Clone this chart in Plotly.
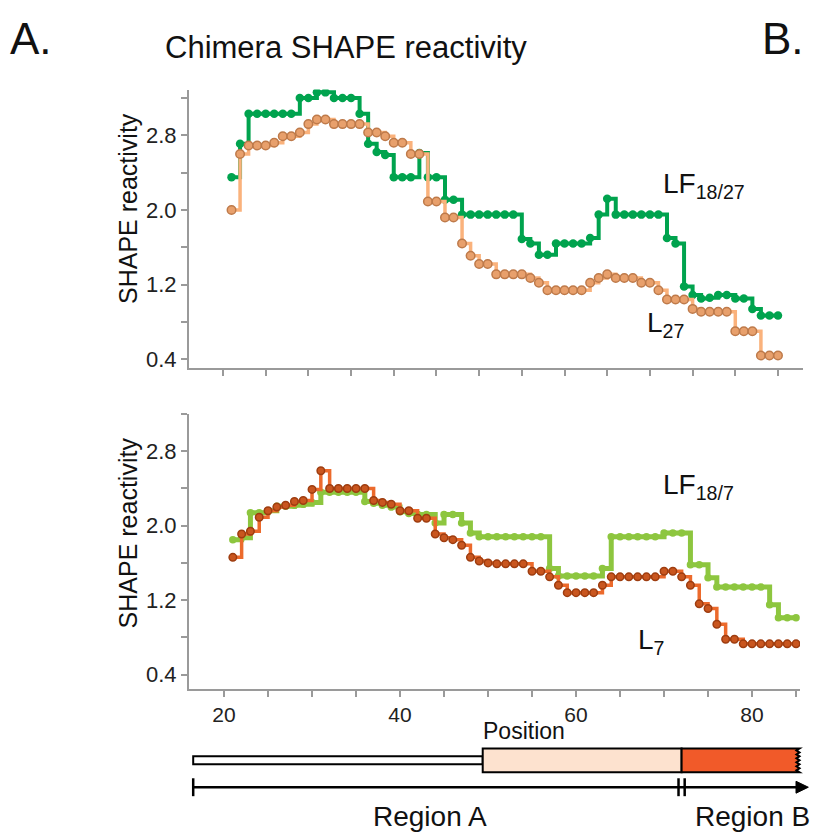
import plotly.graph_objects as go

W, H = 819, 838

# ---------------- data ----------------
positions = list(range(21, 86))

lf_18_27 = [2.35, 2.71, 3.03, 3.03, 3.03, 3.03, 3.03, 3.03, 3.20, 3.20,
            3.26, 3.26, 3.20, 3.20, 3.20, 3.03, 2.71, 2.62, 2.59, 2.35,
            2.35, 2.35, 2.61, 2.35, 2.35, 2.11, 2.11, 1.95, 1.95, 1.95,
            1.95, 1.95, 1.95, 1.95, 1.69, 1.64, 1.52, 1.52, 1.64, 1.64,
            1.64, 1.64, 1.70, 1.95, 2.12, 1.95, 1.95, 1.95, 1.95, 1.95,
            1.95, 1.70, 1.64, 1.18, 1.09, 1.05, 1.06, 1.09, 1.09, 1.05,
            1.05, 0.94, 0.87, 0.87, 0.87]

l_27 = [2.00, 2.60, 2.69, 2.69, 2.69, 2.72, 2.79, 2.79, 2.83, 2.92,
        2.97, 2.97, 2.92, 2.92, 2.92, 2.92, 2.83, 2.83, 2.79, 2.72,
        2.72, 2.60, 2.60, 2.09, 2.09, 1.92, 1.92, 1.64, 1.51, 1.42,
        1.42, 1.31, 1.31, 1.31, 1.31, 1.27, 1.22, 1.14, 1.14, 1.14,
        1.14, 1.14, 1.22, 1.27, 1.31, 1.27, 1.27, 1.27, 1.22, 1.22,
        1.14, 1.04, 1.04, 1.04, 0.94, 0.91, 0.91, 0.91, 0.91, 0.70,
        0.70, 0.70, 0.44, 0.44, 0.44]

lf_18_7 = [1.85, 1.87, 2.14, 2.14, 2.16, 2.21, 2.21, 2.22, 2.23, 2.25,
           2.36, 2.36, 2.36, 2.36, 2.36, 2.26, 2.24, 2.22, 2.20, 2.15,
           2.13, 2.12, 2.12, 2.03, 2.12, 2.12, 2.03, 1.92, 1.88, 1.88,
           1.88, 1.88, 1.88, 1.88, 1.88, 1.88, 1.54, 1.46, 1.46, 1.46,
           1.46, 1.46, 1.54, 1.88, 1.88, 1.88, 1.88, 1.88, 1.88, 1.92,
           1.92, 1.92, 1.58, 1.58, 1.44, 1.34, 1.34, 1.34, 1.34, 1.34,
           1.34, 1.15, 1.01, 1.01, 1.01]

l_7 = [1.66, 1.91, 1.94, 2.09, 2.16, 2.20, 2.22, 2.26, 2.27, 2.39,
       2.59, 2.40, 2.40, 2.40, 2.40, 2.40, 2.27, 2.25, 2.23, 2.16,
       2.16, 2.08, 2.08, 1.91, 1.87, 1.85, 1.79, 1.66, 1.62, 1.60,
       1.59, 1.59, 1.59, 1.59, 1.51, 1.51, 1.45, 1.36, 1.28, 1.28,
       1.28, 1.28, 1.36, 1.45, 1.45, 1.45, 1.45, 1.45, 1.45, 1.51,
       1.51, 1.45, 1.36, 1.16, 1.11, 0.94, 0.78, 0.78, 0.73, 0.73,
       0.73, 0.73, 0.73, 0.73, 0.73]

y_major = [0.4, 1.2, 2.0, 2.8]
y_major_text = ["0.4", "1.2", "2.0", "2.8"]
y_minor = [0.8, 1.6, 2.4, 3.2]
x_major = [20, 40, 60, 80]
x_major_text = ["20", "40", "60", "80"]
x_minor = [25, 30, 35, 45, 50, 55, 65, 70, 75, 85]

# schematic (positions along the sequence)
schem_start, schem_mid, region_split, schem_end = 16.5, 49.4, 72.0, 85.4
arrow_end = 86.4
region_labels = ["Region A", "Region B"]
region_label_pos = [43.4, 80.0]

# ---------------- figure ----------------
FONT = "Liberation Sans, Arial, Helvetica, sans-serif"
fig = go.Figure()

fig.add_trace(go.Scatter(
    x=positions, y=lf_18_27, xaxis="x", yaxis="y", mode="lines+markers",
    line=dict(shape="hv", color="#00A34E", width=4),
    marker=dict(size=8.5, color="#00A34E"), hoverinfo="skip"))
fig.add_trace(go.Scatter(
    x=positions, y=l_27, xaxis="x", yaxis="y", mode="lines+markers",
    line=dict(shape="hv", color="#FAB27C", width=3.5),
    marker=dict(size=8.5, color="#E8A06C", line=dict(color="#BE7A4A", width=1.5)),
    hoverinfo="skip"))
fig.add_trace(go.Scatter(
    x=positions, y=lf_18_7, xaxis="x2", yaxis="y2", mode="lines+markers",
    line=dict(shape="hv", color="#8DC63F", width=5),
    marker=dict(size=7.5, color="#8DC63F"), hoverinfo="skip"))
fig.add_trace(go.Scatter(
    x=positions, y=l_7, xaxis="x2", yaxis="y2", mode="lines+markers",
    line=dict(shape="hv", color="#EC6A2C", width=3.5),
    marker=dict(size=7.5, color="#C9561F", line=dict(color="#9E3D10", width=1.5)),
    hoverinfo="skip"))
# invisible trace anchoring the schematic axis
fig.add_trace(go.Scatter(x=[None], y=[None], xaxis="x3", yaxis="y3",
                         showlegend=False, hoverinfo="skip"))

def axis_style(minor_vals):
    return dict(showgrid=False, zeroline=False, showline=True,
                linecolor="#9a9a9a", linewidth=2, ticks="outside",
                ticklen=6, tickcolor="#9a9a9a", tickwidth=1.5,
                tickfont=dict(family=FONT, size=22, color="#222"),
                minor=dict(tickvals=minor_vals, ticks="outside", ticklen=6,
                           tickcolor="#9a9a9a", tickwidth=1.5, showgrid=False))

px_per_unit = 8.8
x3_range = [20 - 224 / px_per_unit, 20 + (W - 224) / px_per_unit]

fig.update_layout(
    width=W, height=H, margin=dict(l=0, r=0, t=0, b=0),
    paper_bgcolor="white", plot_bgcolor="rgba(0,0,0,0)", showlegend=False,
    xaxis=dict(domain=[189 / W, 803 / W], anchor="y", range=[16.02, 87.93],
               tickvals=x_major, showticklabels=False, **axis_style(x_minor)),
    yaxis=dict(domain=[1 - 370 / H, 1 - 90 / H], anchor="x", range=[0.304, 3.29],
               tickvals=y_major, ticktext=y_major_text, **axis_style(y_minor)),
    xaxis2=dict(domain=[189 / W, 800 / W], anchor="y2", range=[16.02, 85.45],
                tickvals=x_major, ticktext=x_major_text, **axis_style(x_minor)),
    yaxis2=dict(domain=[1 - 692 / H, 1 - 416 / H], anchor="x2", range=[0.248, 3.2],
                tickvals=y_major, ticktext=y_major_text, **axis_style(y_minor)),
    xaxis3=dict(domain=[0, 1], anchor="y3", range=x3_range, visible=False),
    yaxis3=dict(domain=[0, 0.1], anchor="x3", range=[0, 1], visible=False),
)
fig.update_xaxes(tickfont_size=21, selector=dict(anchor="y2"))

def py(p):
    return 1 - p / H

ann = []
ann.append(dict(text="A.", x=8 / W, y=py(12), xanchor="left", yanchor="top",
                font=dict(family=FONT, size=44, color="#111")))
ann.append(dict(text="B.", x=806 / W, y=py(12), xanchor="right", yanchor="top",
                font=dict(family=FONT, size=44, color="#111")))
ann.append(dict(text="Chimera SHAPE reactivity", x=346 / W, y=py(48),
                xanchor="center", yanchor="middle",
                font=dict(family=FONT, size=31, color="#111")))
for yc in (210, 536):
    ann.append(dict(text="SHAPE reactivity", x=128 / W, y=py(yc), textangle=-90,
                    xanchor="center", yanchor="middle",
                    font=dict(family=FONT, size=25, color="#111")))
ann.append(dict(text="LF<sub>18/27</sub>", x=661 / W, y=py(186), xanchor="left",
                yanchor="middle", font=dict(family=FONT, size=28, color="#111")))
ann.append(dict(text="L<sub>27</sub>", x=645 / W, y=py(326), xanchor="left",
                yanchor="middle", font=dict(family=FONT, size=28, color="#111")))
ann.append(dict(text="LF<sub>18/7</sub>", x=661 / W, y=py(489), xanchor="left",
                yanchor="middle", font=dict(family=FONT, size=28, color="#111")))
ann.append(dict(text="L<sub>7</sub>", x=636 / W, y=py(645), xanchor="left",
                yanchor="middle", font=dict(family=FONT, size=28, color="#111")))
ann.append(dict(text="Position", x=524 / W, y=py(735), xanchor="center",
                yanchor="middle", font=dict(family=FONT, size=23, color="#111")))
for lbl, xp in zip(region_labels, region_label_pos):
    ann.append(dict(text=lbl, x=xp, xref="x3", y=py(820), yref="paper",
                    xanchor="center", yanchor="middle",
                    font=dict(family=FONT, size=28, color="#111")))
for a in ann:
    a.setdefault("xref", "paper")
    a.setdefault("yref", "paper")
    a["showarrow"] = False
fig.update_layout(annotations=ann)

shapes = []
blk = dict(color="black", width=2)
# thin white bar
shapes.append(dict(type="rect", xref="x3", yref="paper", x0=schem_start, x1=schem_mid,
                   y0=py(768), y1=py(760), fillcolor="white", line=blk))
# peach box
shapes.append(dict(type="rect", xref="x3", yref="paper", x0=schem_mid, x1=region_split,
                   y0=py(776), y1=py(752), fillcolor="#FDE2CF", line=blk))
# red box with jagged right edge
top, bot = py(752), py(776)
n_teeth = 6
pts = [f"M {region_split},{top}", f"L {schem_end},{top}"]
for i in range(1, 2 * n_teeth + 1):
    yy = top + (bot - top) * i / (2 * n_teeth)
    xx = schem_end - (0.35 if i % 2 == 1 else 0.0)
    pts.append(f"L {xx},{yy}")
pts.append(f"L {region_split},{bot} Z")
shapes.append(dict(type="path", xref="x3", yref="paper", path=" ".join(pts),
                   fillcolor="#F15A29", line=blk))
# position arrow
ay = py(791)
shapes.append(dict(type="line", xref="x3", yref="paper", x0=schem_start, x1=arrow_end - 1.0,
                   y0=ay, y1=ay, line=dict(color="black", width=2.5)))
shapes.append(dict(type="path", xref="x3", yref="paper",
                   path=f"M {arrow_end - 1.4},{py(785)} L {arrow_end},{ay} L {arrow_end - 1.4},{py(797)} Z",
                   fillcolor="black", line=dict(color="black", width=1)))
for xp in (schem_start, region_split - 0.35, region_split + 0.35):
    shapes.append(dict(type="line", xref="x3", yref="paper", x0=xp, x1=xp,
                       y0=py(782), y1=py(800), line=dict(color="black", width=2.5)))
fig.update_layout(shapes=shapes)

fig.write_html("out.html", config={"displayModeBar": False},
               post_script="document.body.style.margin='0';document.body.style.overflow='hidden';")
